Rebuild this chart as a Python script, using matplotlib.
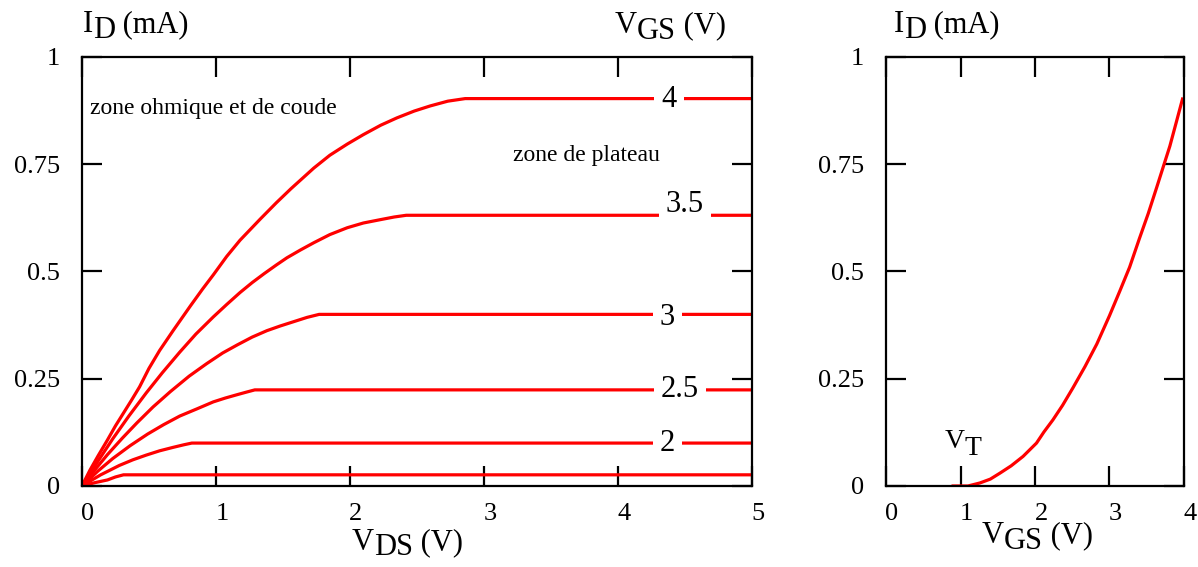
import matplotlib.pyplot as plt
import matplotlib.transforms as mtransforms

plt.rcParams['font.family'] = ['Liberation Serif', 'DejaVu Serif']

# output characteristics (VDS in V, ID in mA)
vds_4 = [0, 0.06, 0.12, 0.19, 0.25, 0.31, 0.37, 0.43, 0.5, 0.58, 0.68, 0.81, 0.9, 0.98, 1.08, 1.18, 1.33, 1.45,
         1.56, 1.73, 1.85, 1.98, 2.1, 2.23, 2.35, 2.48, 2.6, 2.73, 2.86, 5.0]
id_4 = [0, 0.037, 0.07, 0.107, 0.14, 0.17, 0.2, 0.231, 0.274, 0.316, 0.362, 0.42, 0.459, 0.492, 0.535, 0.573, 0.622,
        0.66, 0.693, 0.741, 0.771, 0.797, 0.819, 0.841, 0.858, 0.874, 0.886, 0.897, 0.903, 0.903]
vds_35 = [0, 0.12, 0.23, 0.35, 0.48, 0.6, 0.73, 0.85, 0.98, 1.08, 1.18, 1.27, 1.36, 1.45, 1.53, 1.63, 1.73, 1.85,
          1.98, 2.1, 2.23, 2.33, 2.42, 5.0]
id_35 = [0, 0.058, 0.11, 0.163, 0.217, 0.264, 0.312, 0.354, 0.394, 0.423, 0.451, 0.474, 0.495, 0.515, 0.532, 0.55,
         0.567, 0.586, 0.602, 0.613, 0.621, 0.627, 0.631, 0.631]
vds_3 = [0, 0.1, 0.19, 0.3, 0.41, 0.53, 0.66, 0.8, 0.93, 1.05, 1.16, 1.27, 1.38, 1.48, 1.58, 1.68, 1.77, 5.0]
id_3 = [0, 0.039, 0.073, 0.111, 0.147, 0.184, 0.22, 0.256, 0.285, 0.31, 0.329, 0.347, 0.362, 0.373, 0.383, 0.393,
        0.40, 0.40]
vds_25 = [0, 0.12, 0.23, 0.36, 0.49, 0.61, 0.73, 0.86, 0.98, 1.07, 1.16, 1.23, 1.29, 5.0]
id_25 = [0, 0.035, 0.064, 0.094, 0.121, 0.143, 0.163, 0.18, 0.196, 0.205, 0.213, 0.219, 0.224, 0.224]
vds_2 = [0, 0.14, 0.28, 0.38, 0.48, 0.58, 0.68, 0.76, 0.82, 5.0]
id_2 = [0, 0.026, 0.048, 0.061, 0.072, 0.082, 0.09, 0.096, 0.10, 0.10]
vds_15 = [0, 0.1, 0.19, 0.25, 0.31, 5.0]
id_15 = [0, 0.008, 0.014, 0.021, 0.026, 0.026]

curves = [(vds_4, id_4), (vds_35, id_35), (vds_3, id_3), (vds_25, id_25), (vds_2, id_2), (vds_15, id_15)]

# VGS labels written on the plateaus: (text, x, y)
vgs_labels = [('4', 4.38, 0.90), ('3.5', 4.5, 0.657), ('3', 4.37, 0.393), ('2.5', 4.46, 0.224), ('2', 4.37, 0.10)]

# transfer characteristic
vgs_t = [0.9, 1.1, 1.26, 1.4, 1.53, 1.68, 1.84, 2.02, 2.12, 2.24, 2.37, 2.51, 2.67, 2.83, 3.0, 3.14, 3.27, 3.40,
         3.52, 3.63, 3.72, 3.81, 3.9, 3.98]
id_t = [0, 0, 0.007, 0.016, 0.03, 0.047, 0.069, 0.10, 0.126, 0.154, 0.188, 0.229, 0.278, 0.331, 0.397, 0.455,
        0.51, 0.576, 0.635, 0.694, 0.743, 0.792, 0.85, 0.902]

yticks = [0, 0.25, 0.5, 0.75, 1]
yticklabels = ['0', '0.25', '0.5', '0.75', '1']

RED = '#ff0000'
LW = 2.3
LAB = 22


def sub_label(ax, x, y, main, sub, rest='', size=LAB, drop=4, coords='axes fraction'):
    # text with a subscript the same size as the main letters, just dropped
    t1 = ax.annotate(main, (x, y), xycoords=coords, fontsize=size, va='baseline',
                     annotation_clip=False)
    t2 = ax.annotate(sub, (1, 0), xycoords=t1, xytext=(0, -drop), textcoords='offset points',
                     fontsize=size, va='bottom', annotation_clip=False)
    if rest:
        ax.annotate(rest, (1, 0), xycoords=t2, xytext=(0, drop), textcoords='offset points',
                    fontsize=size, va='bottom', annotation_clip=False)


def style_axes(ax, xticks):
    for s in ax.spines.values():
        s.set_linewidth(1.6)
    ax.set_xticks(xticks)
    ax.set_xticklabels([str(t) for t in xticks])
    ax.set_yticks(yticks)
    ax.set_yticklabels(yticklabels)
    ax.tick_params(direction='in', length=14.5, width=1.6, top=True, right=True,
                   labelsize=19, colors='black')
    ax.tick_params(axis='x', pad=12)
    ax.tick_params(axis='y', pad=16)
    shift = mtransforms.ScaledTranslation(0.06, 0, fig.dpi_scale_trans)
    for lab in ax.get_xticklabels():
        lab.set_transform(lab.get_transform() + shift)


fig = plt.figure(figsize=(11.98, 5.67), dpi=100)
ax1 = fig.add_axes([0.0684, 0.1429, 0.5593, 0.7566])
ax2 = fig.add_axes([0.7396, 0.1429, 0.2487, 0.7566])

# left panel
for v, i in curves:
    ax1.plot(v, i, color=RED, lw=LW)
ax1.set_xlim(0, 5)
ax1.set_ylim(0, 1)
style_axes(ax1, [0, 1, 2, 3, 4, 5])

for txt, x, y in vgs_labels:
    ax1.text(x, y, txt, fontsize=22, ha='center', va='center',
             bbox=dict(facecolor='white', edgecolor='none', pad=5))

ax1.text(0.06, 0.867, 'zone ohmique et de coude', fontsize=17, va='baseline')
ax1.text(3.22, 0.757, 'zone de plateau', fontsize=17, va='baseline')

sub_label(ax1, 0.0015, 1.058, 'I', 'D', ' (mA)')
sub_label(ax1, 0.7955, 1.056, 'V', 'GS', ' (V)')
sub_label(ax1, 0.403, -0.149, 'V', 'DS', ' (V)')

# right panel
ax2.plot(vgs_t, id_t, color=RED, lw=LW)
ax2.set_xlim(0, 4)
ax2.set_ylim(0, 1)
style_axes(ax2, [0, 1, 2, 3, 4])

sub_label(ax2, 0.79, 0.089, 'V', 'T', size=20, drop=5, coords='data')
sub_label(ax2, 0.027, 1.058, 'I', 'D', ' (mA)')
sub_label(ax2, 0.322, -0.133, 'V', 'GS', ' (V)')

plt.savefig('out.png', dpi=100)
